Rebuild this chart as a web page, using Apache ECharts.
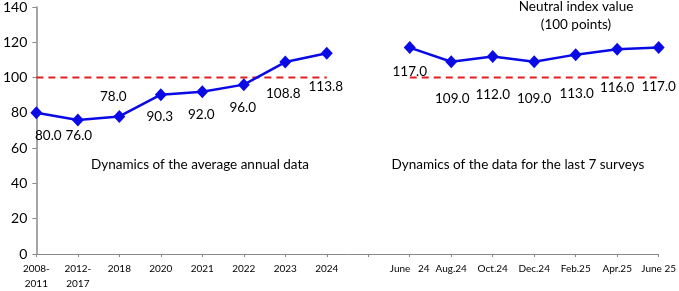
<!DOCTYPE html>
<html>
<head>
<meta charset="utf-8">
<script src="https://cdn.jsdelivr.net/npm/echarts@6/dist/echarts.min.js"></script>
<style>html,body{margin:0;padding:0;background:#fff}#c{width:679px;height:291px}</style>
</head>
<body>
<div id="c"></div>
<script>
const categories = ["2008-\n2011","2012-\n2017","2018","2020","2021","2022","2023","2024","","June   24","Aug.24","Oct.24","Dec.24","Feb.25","Apr.25","June 25"];
const indexValues = [80.0,76.0,78.0,90.3,92.0,96.0,108.8,113.8,null,117.0,109.0,112.0,109.0,113.0,116.0,117.0];
const neutralValues = [100,100,100,100,100,100,100,100,null,100,100,100,100,100,100,100];
const yTicks = {min:0, max:140, interval:20};
const annotationNeutral = "Neutral index value\n(100 points)";
const annotationAnnual = "Dynamics of the average annual data";
const annotationSurveys = "Dynamics of the data for the last 7 surveys";

// label offsets (style, not data): [dx, dy] from point centre
const labelOffsets = [[12,23],[1,16],[-6,-20],[-1,22],[-1,23],[-1,23],[-2,32],[-1,33],null,[0,24],[1,37],[0,38],[0,37],[1,39],[0,38],[0,39]];

const FONT = 'Lato';
const chart = echarts.init(document.getElementById('c'));
const seriesData = indexValues.map((v,i)=> v===null ? null : {
  value: v,
  label: {show:true, position:'inside', offset: labelOffsets[i], formatter: p=>p.value.toFixed(1),
          color:'#000', fontFamily:FONT, fontSize:13.5}
});
chart.setOption({
  animation:false,
  grid:{left:35,right:17,top:5,bottom:32,containLabel:false},
  xAxis:{type:'category',data:categories,boundaryGap:false,
    axisLine:{lineStyle:{color:'#888',width:1}},
    axisTick:{show:true,alignWithLabel:true,length:3,lineStyle:{color:'#888'}},
    axisLabel:{interval:0,color:'#000',fontFamily:FONT,fontSize:10,lineHeight:15,margin:7},
    splitLine:{show:false}},
  yAxis:{type:'value',min:yTicks.min,max:yTicks.max,interval:yTicks.interval,
    axisLine:{show:true,lineStyle:{color:'#888',width:1.5}},
    axisTick:{show:true,length:4,lineStyle:{color:'#888'}},
    axisLabel:{color:'#000',fontFamily:FONT,fontSize:14,margin:9},
    splitLine:{show:false}},
  series:[
    {type:'line',data:neutralValues,symbol:'none',connectNulls:false,
     lineStyle:{color:'#e02020',width:2,type:[7,5]},z:1,silent:true},
    {type:'line',data:seriesData,connectNulls:false,symbol:'diamond',symbolSize:[12,13],
     lineStyle:{color:'#0a0ae6',width:2.5},itemStyle:{color:'#0a0ae6'},z:3}
  ],
  graphic:[
    {type:'text',style:{text:annotationNeutral,x:576,y:16,align:'center',verticalAlign:'middle',
      font:'13.5px '+FONT,fill:'#000',lineHeight:18}},
    {type:'text',style:{text:annotationAnnual,x:200,y:165,align:'center',verticalAlign:'middle',font:'13.5px '+FONT,fill:'#000'}},
    {type:'text',style:{text:annotationSurveys,x:518,y:165,align:'center',verticalAlign:'middle',font:'13.5px '+FONT,fill:'#000'}}
  ]
});
</script>
</body>
</html>
